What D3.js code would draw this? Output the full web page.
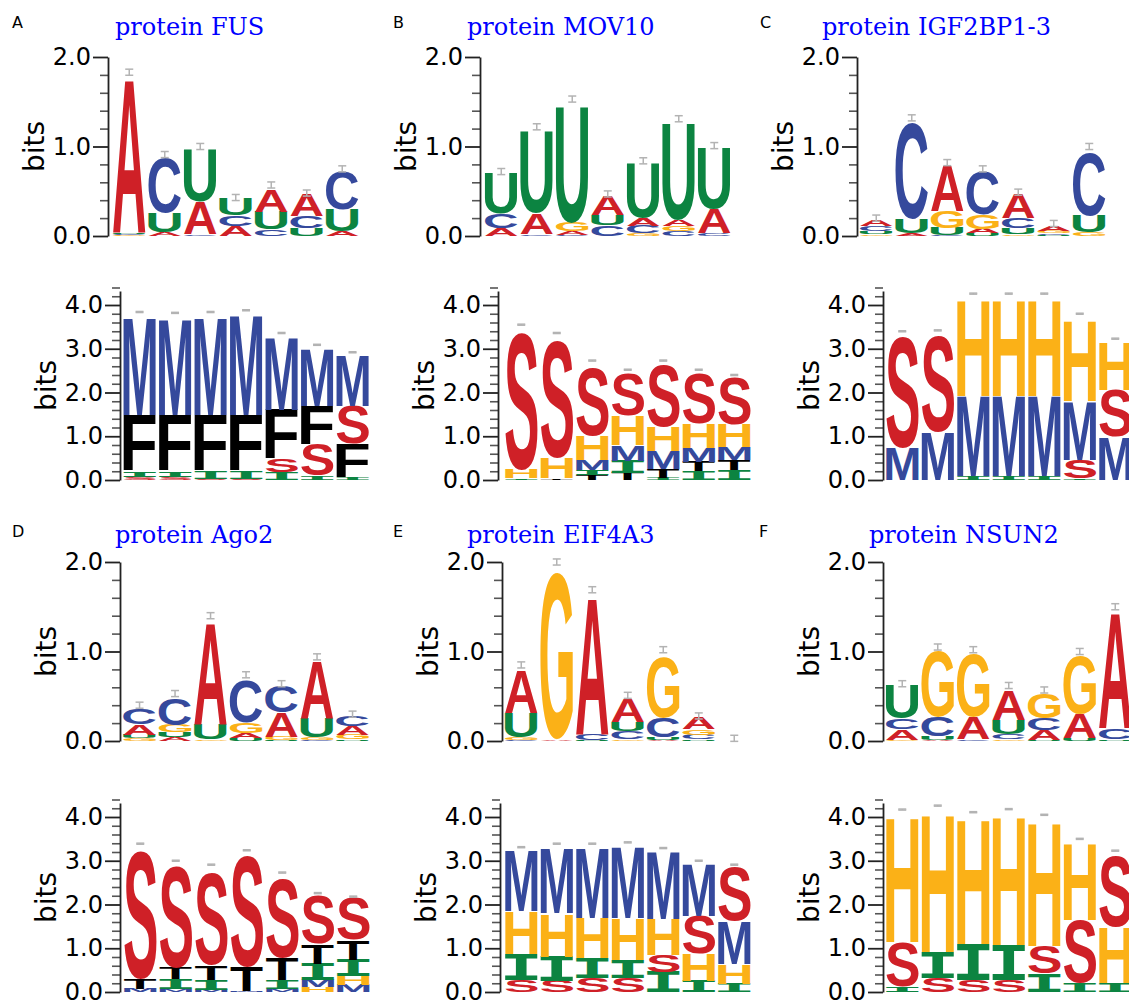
<!DOCTYPE html>
<html>
<head>
<meta charset="utf-8">
<script src="https://cdn.jsdelivr.net/npm/d3@7"></script>
<style>
  body { margin: 0; background: #fff; }
</style>
</head>
<body>
<div id="chart"></div>
<script>
// ---- data: each column is a stack of [letter, bits], bottom to top ----
const fusTop = [
  [["G",0.01],["C",0.01],["U",0.01],["A",1.71]],
  [["A",0.04],["U",0.22],["C",0.62]],
  [["C",0.02],["A",0.36],["U",0.58]],
  [["A",0.11],["C",0.12],["U",0.19]],
  [["C",0.07],["U",0.2],["A",0.25]],
  [["U",0.09],["C",0.13],["A",0.25]],
  [["A",0.05],["U",0.25],["C",0.42]]
];
const fusTopErr = [1.83, 0.91, 1.0, 0.43, 0.57, 0.48, 0.75];
const fusBot = [
  [["S",0.07],["I",0.13],["F",1.28],["M",2.24]],
  [["S",0.07],["I",0.13],["F",1.28],["M",2.21]],
  [["S",0.03],["I",0.17],["F",1.28],["M",2.23]],
  [["S",0.02],["I",0.18],["F",1.28],["M",2.28]],
  [["I",0.18],["S",0.3],["F",1.12],["M",1.65]],
  [["I",0.1],["S",0.72],["F",0.88],["M",1.3]],
  [["I",0.06],["F",0.78],["S",0.86],["M",1.15]]
];
const fusBotErr = [3.84, 3.82, 3.84, 3.88, 3.36, 3.09, 2.92];

const movTop = [
  [["A",0.09],["C",0.16],["U",0.45]],
  [["C",0.02],["A",0.23],["U",0.92]],
  [["C",0.01],["A",0.04],["G",0.1],["U",1.29]],
  [["C",0.12],["U",0.12],["A",0.21]],
  [["G",0.03],["C",0.08],["A",0.09],["U",0.61]],
  [["C",0.05],["G",0.06],["A",0.07],["U",1.07]],
  [["C",0.03],["A",0.27],["U",0.68]]
];
const movTopErr = [0.72, 1.22, 1.53, 0.47, 0.84, 1.31, 1.01];
const movBot = [
  [["M",0.01],["I",0.03],["H",0.2],["S",3.14]],
  [["T",0.04],["H",0.48],["S",2.68]],
  [["T",0.12],["I",0.12],["M",0.22],["H",0.55],["S",1.55]],
  [["T",0.16],["I",0.28],["M",0.36],["H",0.67],["S",0.96]],
  [["I",0.05],["T",0.2],["M",0.42],["H",0.55],["S",1.4]],
  [["I",0.2],["T",0.22],["M",0.32],["H",0.55],["S",1.13]],
  [["I",0.22],["T",0.24],["M",0.29],["H",0.52],["S",1.08]]
];
const movBotErr = [3.55, 3.36, 2.73, 2.52, 2.73, 2.52, 2.4];

const igfTop = [
  [["G",0.02],["U",0.03],["C",0.06],["A",0.07]],
  [["A",0.03],["U",0.16],["C",1.07]],
  [["C",0.01],["U",0.08],["G",0.19],["A",0.51]],
  [["U",0.03],["A",0.05],["G",0.16],["C",0.48]],
  [["G",0.02],["U",0.07],["C",0.11],["A",0.27]],
  [["U",0.01],["C",0.02],["G",0.03],["A",0.06]],
  [["G",0.04],["U",0.19],["C",0.71]]
];
const igfTopErr = [0.2, 1.32, 0.82, 0.75, 0.49, 0.14, 1.0];
const igfBot = [
  [["M",0.75],["S",2.52]],
  [["M",1.1],["S",2.2]],
  [["I",0.09],["M",1.84],["H",2.19]],
  [["I",0.09],["M",1.84],["H",2.19]],
  [["I",0.09],["M",1.84],["H",2.19]],
  [["I",0.04],["S",0.42],["M",1.34],["H",1.85]],
  [["M",0.98],["S",1.08],["H",1.11]]
];
const igfBotErr = [3.4, 3.42, 4.26, 4.26, 4.26, 3.8, 3.23];

const agoTop = [
  [["G",0.03],["U",0.04],["A",0.12],["C",0.17]],
  [["A",0.04],["U",0.06],["G",0.08],["C",0.29]],
  [["G",0.02],["U",0.17],["A",1.13]],
  [["U",0.03],["A",0.06],["G",0.12],["C",0.47]],
  [["U",0.01],["G",0.04],["A",0.27],["C",0.29]],
  [["C",0.01],["G",0.03],["U",0.22],["A",0.64]],
  [["U",0.02],["G",0.05],["A",0.1],["C",0.12]]
];
const agoTopErr = [0.4, 0.53, 1.4, 0.74, 0.64, 0.94, 0.3];
const agoBot = [
  [["M",0.08],["T",0.22],["S",2.91]],
  [["M",0.06],["I",0.24],["T",0.25],["S",2.33]],
  [["M",0.05],["I",0.22],["T",0.33],["S",2.1]],
  [["M",0.02],["T",0.56],["S",2.52]],
  [["M",0.07],["I",0.2],["T",0.5],["S",1.81]],
  [["H",0.12],["M",0.16],["I",0.37],["T",0.45],["S",1.12]],
  [["M",0.17],["H",0.19],["I",0.38],["T",0.45],["S",0.97]]
];
const agoBotErr = [3.39, 3.0, 2.91, 3.24, 2.73, 2.26, 2.18];

const eifTop = [
  [["C",0.01],["G",0.03],["U",0.27],["A",0.48]],
  [["A",0.02],["G",1.86]],
  [["U",0.01],["C",0.07],["A",1.53]],
  [["G",0.02],["C",0.09],["U",0.1],["A",0.26]],
  [["A",0.01],["U",0.03],["C",0.22],["G",0.68]],
  [["U",0.02],["C",0.05],["G",0.06],["A",0.13]],
  [["A",0.003],["C",0.003],["G",0.003],["U",0.003]]
];
const eifTopErr = [0.85, 2.0, 1.69, 0.51, 1.02, 0.28, 0.03];
const eifBot = [
  [["S",0.27],["I",0.59],["H",0.99],["M",1.39]],
  [["S",0.26],["I",0.55],["H",0.99],["M",1.49]],
  [["S",0.33],["I",0.44],["H",0.93],["M",1.59]],
  [["S",0.32],["I",0.42],["H",0.95],["M",1.64]],
  [["I",0.46],["S",0.38],["H",0.82],["M",1.55]],
  [["I",0.25],["H",0.62],["S",0.87],["M",1.19]],
  [["I",0.19],["H",0.45],["M",0.99],["S",1.22]]
];
const eifBotErr = [3.31, 3.39, 3.39, 3.42, 3.29, 3.0, 2.91];

const nsunTop = [
  [["G",0.01],["A",0.12],["C",0.12],["U",0.37]],
  [["A",0.01],["U",0.04],["C",0.22],["G",0.73]],
  [["C",0.02],["A",0.25],["G",0.7]],
  [["G",0.02],["C",0.06],["U",0.16],["A",0.33]],
  [["U",0.01],["A",0.11],["C",0.13],["G",0.28]],
  [["U",0.03],["A",0.27],["G",0.65]],
  [["U",0.02],["C",0.12],["A",1.29]]
];
const nsunTopErr = [0.64, 1.05, 1.02, 0.62, 0.57, 1.0, 1.5];
const nsunBot = [
  [["I",0.12],["S",1.03],["H",2.85]],
  [["S",0.32],["I",0.6],["H",3.16]],
  [["S",0.27],["I",0.82],["H",2.85]],
  [["S",0.27],["I",0.8],["H",2.94]],
  [["I",0.42],["S",0.63],["H",2.83]],
  [["I",0.2],["S",1.45],["H",1.74]],
  [["I",0.2],["H",1.28],["S",1.62]]
];
const nsunBotErr = [4.17, 4.26, 4.11, 4.18, 4.05, 3.5, 3.23];

const panelLabels = ["A", "B", "C", "D", "E", "F"];
const titles = ["protein FUS", "protein MOV10", "protein IGF2BP1-3", "protein Ago2", "protein EIF4A3", "protein NSUN2"];
const topMajor = [0, 1, 2];
const botMajor = [0, 1, 2, 3, 4];

// ---- layout (pixels) ----
const layout = [
  {lab:[12,28],  title:[115,35],  top:{ax:108, c0:111.5, y0:236, y2:57},  bot:{ax:120, c0:121.8, y0:480, y4:305}},
  {lab:[393,28], title:[467,35],  top:{ax:480, c0:483.5, y0:236, y2:57},  bot:{ax:498, c0:503.5, y0:480, y4:305}},
  {lab:[760,28], title:[822,35],  top:{ax:857, c0:858.5, y0:236, y2:57},  bot:{ax:883, c0:884.5, y0:480, y4:305}},
  {lab:[12,537], title:[115,543], top:{ax:120, c0:121.8, y0:741, y2:562}, bot:{ax:120, c0:122.5, y0:992, y4:817}},
  {lab:[393,537],title:[467,543], top:{ax:502, c0:503.5, y0:741, y2:562}, bot:{ax:500, c0:503.5, y0:992, y4:817}},
  {lab:[759,537],title:[869,543], top:{ax:883, c0:884.5, y0:741, y2:562}, bot:{ax:883, c0:884.5, y0:992, y4:817}}
];
const logos = [
  [fusTop, fusTopErr, fusBot, fusBotErr],
  [movTop, movTopErr, movBot, movBotErr],
  [igfTop, igfTopErr, igfBot, igfBotErr],
  [agoTop, agoTopErr, agoBot, agoBotErr],
  [eifTop, eifTopErr, eifBot, eifBotErr],
  [nsunTop, nsunTopErr, nsunBot, nsunBotErr]
];

const colW = 35.5;
const pad = 1.5;
const colours = {
  A: "#cf2027", C: "#35499c", G: "#fbb117", U: "#0c8441",
  M: "#35499c", F: "#000000", S: "#cf2027", H: "#fbb117", I: "#0c8441", T: "#000000"
};
const glyphFont = l => l === "I" ? "'DejaVu Sans Mono'" : "'Liberation Sans'";

const svg = d3.select("#chart").append("svg")
  .attr("width", 1129).attr("height", 1005)
  .style("display", "block");
svg.append("rect").attr("width", 1129).attr("height", 1005).attr("fill", "#fff");

// ink box of each glyph, so letters can be stretched to fill their slot
const ctx = document.createElement("canvas").getContext("2d");
const metrics = {};
function glyph(l) {
  if (!metrics[l]) {
    ctx.font = `bold 100px ${glyphFont(l)}`;
    const m = ctx.measureText(l);
    metrics[l] = {left: m.actualBoundingBoxLeft, right: m.actualBoundingBoxRight,
                  asc: m.actualBoundingBoxAscent, desc: m.actualBoundingBoxDescent};
  }
  return metrics[l];
}

function drawAxis(g, y, ax, majors, maxv, labelY) {
  const minors = d3.range(1, Math.round(maxv / 0.2) + 1)
    .filter(i => i % 5 !== 0).map(i => i * 0.2);
  g.append("g").attr("transform", `translate(${ax},0)`)
    .call(d3.axisLeft(y).tickValues(minors).tickSize(8).tickFormat(""))
    .call(a => a.select(".domain").remove())
    .selectAll("line").attr("stroke", "#555").attr("stroke-width", 1.6);
  const major = g.append("g").attr("transform", `translate(${ax},0)`)
    .call(d3.axisLeft(y).tickValues(majors).tickSize(15).tickSizeOuter(0)
      .tickPadding(2).tickFormat(d3.format(".1f")));
  major.select(".domain").attr("stroke", "#222").attr("stroke-width", 1.8);
  major.selectAll("line").attr("stroke", "#222").attr("stroke-width", 1.8);
  major.selectAll("text").attr("font-family", "'DejaVu Sans'").attr("font-size", 24)
    .attr("fill", "#000");
  g.append("text")
    .attr("transform", `translate(${ax - 64},${labelY}) rotate(-90)`)
    .attr("text-anchor", "middle")
    .attr("font-family", "'DejaVu Sans'").attr("font-size", 28)
    .text("bits");
}

function drawLogo(g, cols, errs, half, y, c0) {
  cols.forEach((col, i) => {
    let base = 0;
    const bx = c0 + i * colW + pad, bw = colW - 2 * pad;
    col.forEach(([l, v]) => {
      const yb = y(base), yt = y(base + v);
      base += v;
      const bh = yb - yt;
      if (bh < 0.4) return;
      const m = glyph(l);
      const sx = bw / (m.left + m.right), sy = bh / (m.asc + m.desc);
      g.append("text")
        .attr("transform", `translate(${bx + m.left * sx},${yt + m.asc * sy}) scale(${sx},${sy})`)
        .attr("font-family", glyphFont(l)).attr("font-weight", "bold")
        .attr("font-size", 100).attr("fill", colours[l])
        .text(l);
    });
  });
  // error bars
  const eb = g.append("g").attr("stroke", "#b3b3b3").attr("stroke-width", 1.5).attr("fill", "none");
  errs.forEach((c, i) => {
    const cx = c0 + (i + 0.5) * colW;
    const y1 = y(c - half), y2 = y(c + half);
    eb.append("line").attr("x1", cx).attr("x2", cx).attr("y1", y1).attr("y2", y2);
    eb.append("line").attr("x1", cx - 4).attr("x2", cx + 4).attr("y1", y1).attr("y2", y1);
    eb.append("line").attr("x1", cx - 4).attr("x2", cx + 4).attr("y1", y2).attr("y2", y2);
  });
}

layout.forEach((p, k) => {
  const [top, topErr, bot, botErr] = logos[k];
  const g = svg.append("g");

  g.append("text").attr("x", p.lab[0]).attr("y", p.lab[1])
    .attr("font-family", "'DejaVu Sans'").attr("font-size", 16).text(panelLabels[k]);
  g.append("text").attr("x", p.title[0]).attr("y", p.title[1])
    .attr("font-family", "'DejaVu Serif'").attr("font-size", 24).attr("fill", "#0000ff")
    .text(titles[k]);

  // nucleotide logo, 0-2 bits
  const yTop = d3.scaleLinear().domain([0, 2]).range([p.top.y0, p.top.y2]);
  drawLogo(g, top, topErr, 0.034, yTop, p.top.c0);
  drawAxis(g, yTop, p.top.ax, topMajor, 2, (p.top.y0 + p.top.y2) / 2);

  // structure logo, 0-4.32 bits
  const perBit = (p.bot.y0 - p.bot.y4) / 4;
  const yBot = d3.scaleLinear().domain([0, 4.32]).range([p.bot.y0, p.bot.y0 - 4.32 * perBit]);
  drawLogo(g, bot, botErr, 0.012, yBot, p.bot.c0);
  drawAxis(g, yBot, p.bot.ax, botMajor, 4.32, (p.bot.y0 + yBot(4.32)) / 2);
});
</script>
</body>
</html>
